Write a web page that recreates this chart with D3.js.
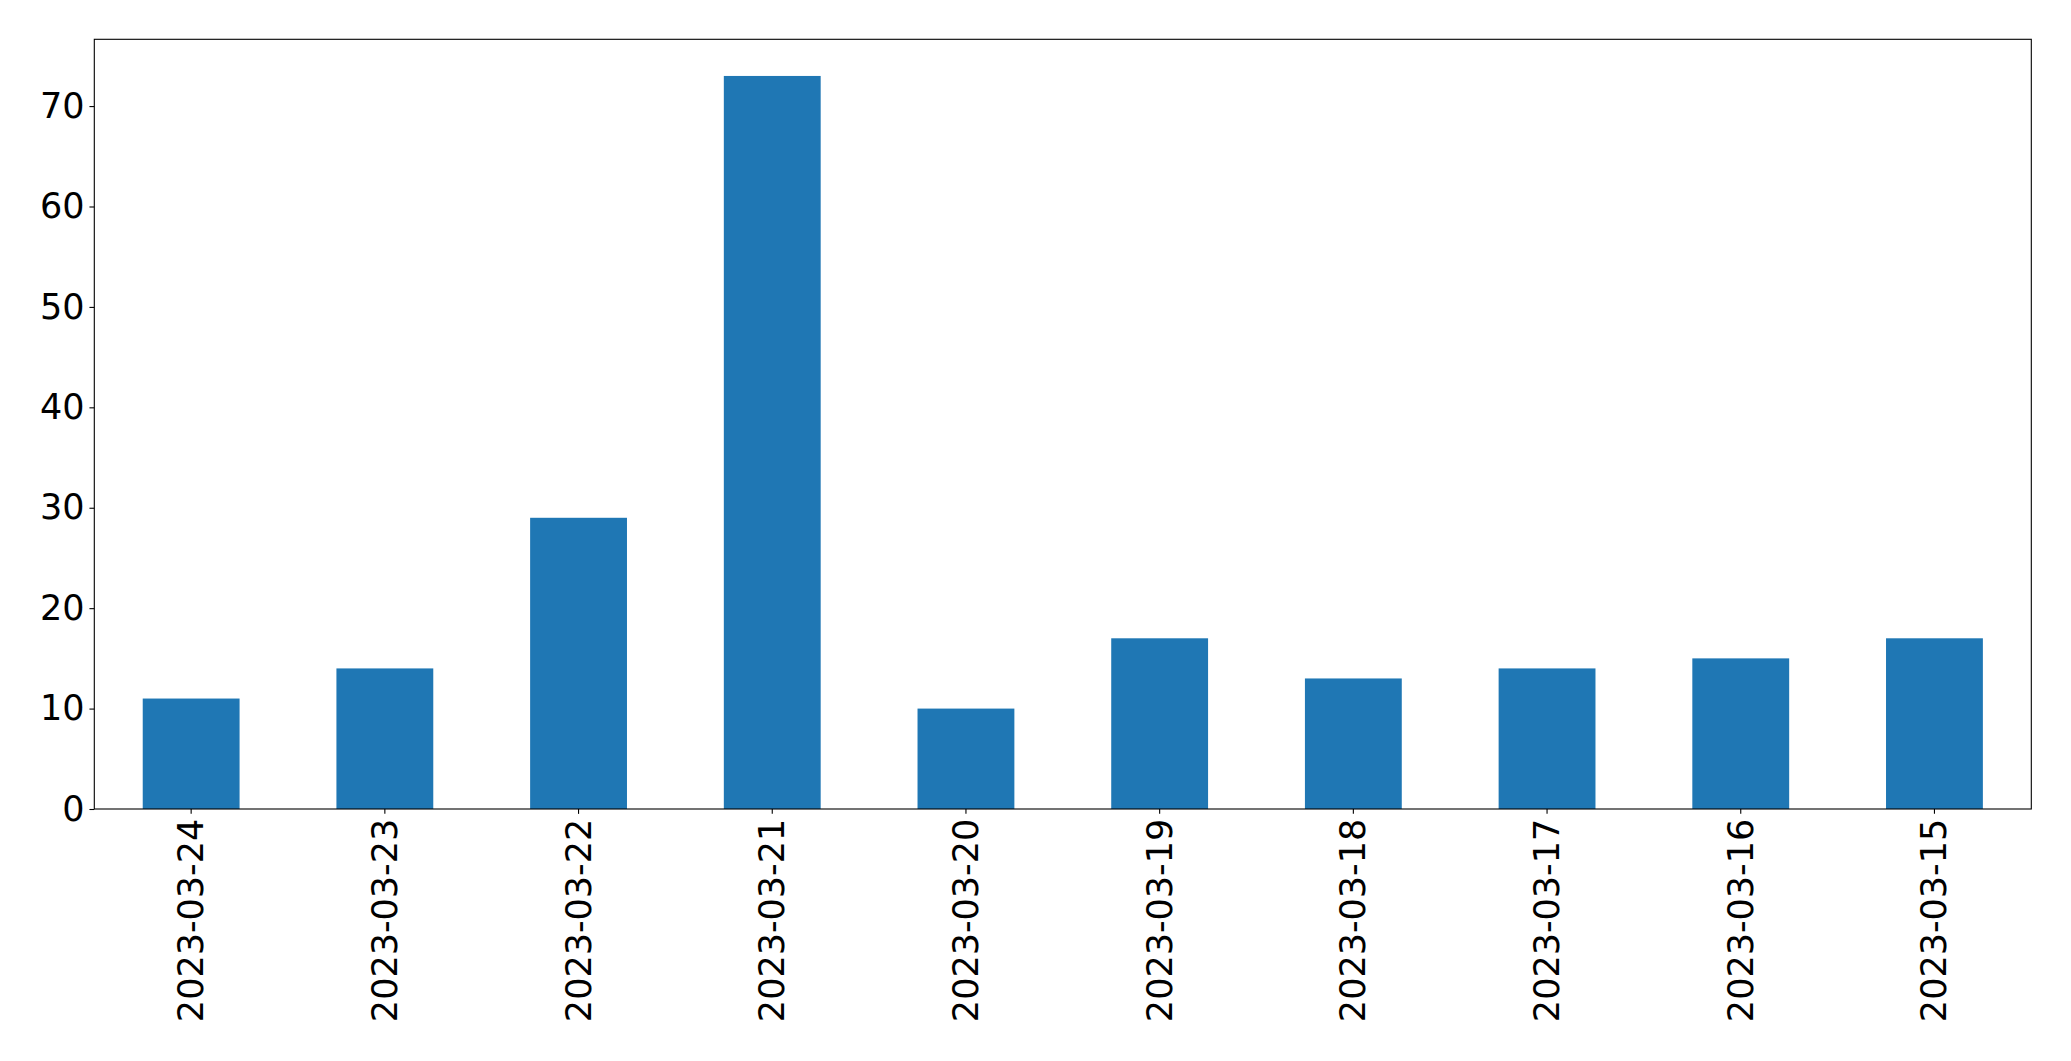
<!DOCTYPE html>
<html><head><meta charset="utf-8">
<script src="https://cdn.jsdelivr.net/npm/d3@7"></script>
<style>html,body{margin:0;padding:0;background:#fff;}</style>
</head><body>
<script>
const categories = ["2023-03-24","2023-03-23","2023-03-22","2023-03-21","2023-03-20","2023-03-19","2023-03-18","2023-03-17","2023-03-16","2023-03-15"];
const values = [11, 14, 29, 73, 10, 17, 13, 14, 15, 17];
const yTicks = [0, 10, 20, 30, 40, 50, 60, 70];

const W = 2071, H = 1061;
const m = {left: 94.3, top: 39.3, right: 2071 - 2031.3, bottom: 1061 - 809};
const fs = 35, tickLen = 4.86, pad = 4.86;
const FONT = "'DejaVu Sans', sans-serif";

const svg = d3.select("body").append("svg").attr("width", W).attr("height", H);

const x = d3.scaleBand().domain(categories).range([m.left, W - m.right])
  .paddingInner(0.5).paddingOuter(0.25);
const y = d3.scaleLinear().domain([0, d3.max(values) * 1.05]).range([H - m.bottom, m.top]);

svg.append("g").selectAll("rect").data(values).join("rect")
  .attr("x", (d, i) => x(categories[i]))
  .attr("y", d => y(d))
  .attr("width", x.bandwidth())
  .attr("height", d => y(0) - y(d))
  .attr("fill", "#1f77b4");

const yAxis = svg.append("g").attr("transform", `translate(${m.left},0)`)
  .call(d3.axisLeft(y).tickValues(yTicks).tickSize(tickLen).tickPadding(pad).tickFormat(d3.format("d")));
yAxis.attr("font-family", FONT).attr("font-size", fs);
yAxis.select(".domain").remove();
yAxis.selectAll("text").attr("fill", "#000");
yAxis.selectAll("line").attr("stroke", "#000").attr("stroke-width", 1.1);

const xAxis = svg.append("g").attr("transform", `translate(0,${H - m.bottom})`)
  .call(d3.axisBottom(x).tickSize(tickLen).tickPadding(pad));
xAxis.attr("font-family", FONT).attr("font-size", fs);
xAxis.select(".domain").remove();
xAxis.selectAll("line").attr("stroke", "#000").attr("stroke-width", 1.1);
xAxis.selectAll("text")
  .attr("fill", "#000")
  .attr("x", 0).attr("y", 0).attr("dy", null)
  .attr("text-anchor", "end")
  .attr("dominant-baseline", "central")
  .attr("transform", `translate(0,${tickLen + pad}) rotate(-90)`);

svg.append("rect")
  .attr("x", m.left).attr("y", m.top)
  .attr("width", W - m.right - m.left).attr("height", H - m.bottom - m.top)
  .attr("fill", "none").attr("stroke", "#000").attr("stroke-width", 1.1);
</script>
</body></html>
